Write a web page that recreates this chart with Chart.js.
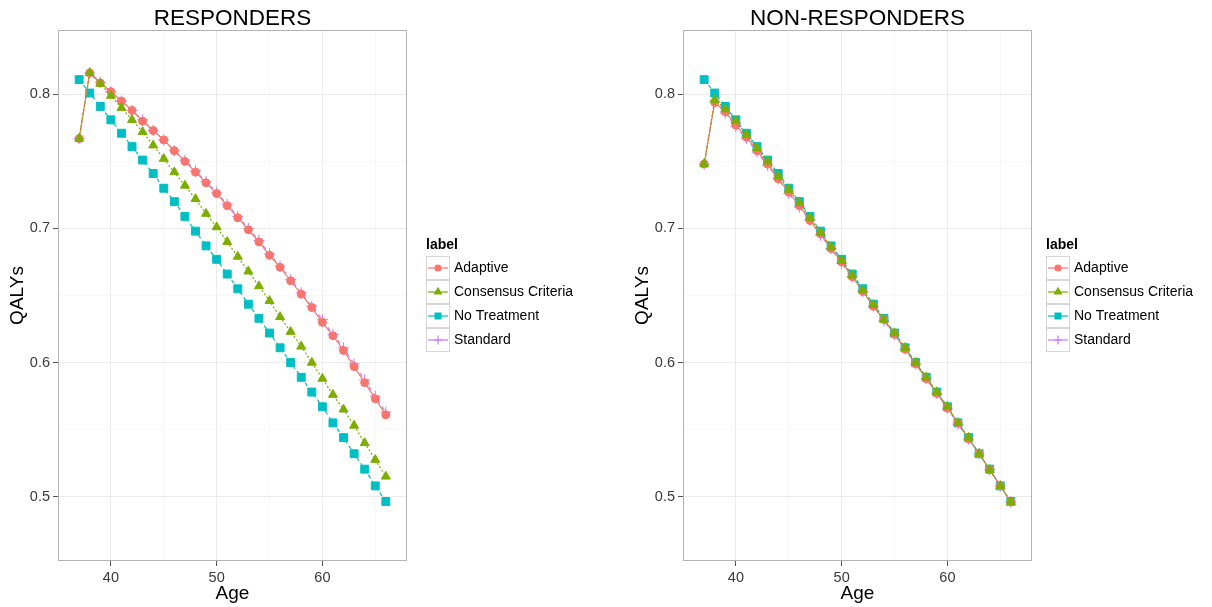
<!DOCTYPE html>
<html>
<head>
<meta charset="utf-8">
<title>QALYs by Age</title>
<script src="https://cdn.jsdelivr.net/npm/chart.js@4.4.1/dist/chart.umd.min.js"></script>
<style>
  html, body { margin: 0; padding: 0; background: #fff; }
  #wrap { position: relative; width: 1212px; height: 607px; overflow: hidden; }
  .panel { position: absolute; top: 0; }
  #left { left: 0; }
  #right { left: 625px; }
</style>
</head>
<body>
<div id="wrap">
  <div class="panel" id="left"><canvas id="respChart" width="600" height="607"></canvas></div>
  <div class="panel" id="right"><canvas id="nonRespChart" width="587" height="607"></canvas></div>
</div>
<script>
// ---- data ----
const ages = [37, 38, 39, 40, 41, 42, 43, 44, 45, 46, 47, 48, 49, 50, 51,
              52, 53, 54, 55, 56, 57, 58, 59, 60, 61, 62, 63, 64, 65, 66];

const seriesLabels = ['Adaptive', 'Consensus Criteria', 'No Treatment', 'Standard'];

// RESPONDERS
const respAdaptive = [0.767, 0.816, 0.8085, 0.802, 0.795, 0.788, 0.780, 0.773, 0.766, 0.758,
                      0.750, 0.742, 0.734, 0.726, 0.717, 0.708, 0.699, 0.690, 0.680, 0.671,
                      0.661, 0.651, 0.641, 0.630, 0.620, 0.609, 0.597, 0.585, 0.573, 0.561];
const respConsensus = [0.767, 0.816, 0.808, 0.799, 0.790, 0.781, 0.772, 0.762, 0.752, 0.742,
                       0.732, 0.722, 0.711, 0.701, 0.690, 0.679, 0.668, 0.657, 0.646, 0.634,
                       0.623, 0.612, 0.600, 0.588, 0.576, 0.565, 0.553, 0.540, 0.5275, 0.515];
const respNoTreatment = [0.811, 0.801, 0.791, 0.781, 0.771, 0.761, 0.751, 0.741, 0.730, 0.720,
                         0.709, 0.698, 0.687, 0.677, 0.666, 0.655, 0.6435, 0.633, 0.622, 0.611,
                         0.600, 0.589, 0.578, 0.567, 0.555, 0.544, 0.532, 0.5205, 0.508, 0.4964];
const respStandard = [0.767, 0.816, 0.809, 0.802, 0.795, 0.788, 0.781, 0.773, 0.766, 0.758,
                      0.751, 0.743, 0.735, 0.727, 0.718, 0.709, 0.700, 0.691, 0.681, 0.672,
                      0.662, 0.652, 0.642, 0.632, 0.621, 0.611, 0.599, 0.587, 0.575, 0.563];

// NON-RESPONDERS
const nonRespAdaptive = [0.748, 0.794, 0.787, 0.777, 0.768, 0.758, 0.748, 0.737, 0.727, 0.717,
                         0.706, 0.696, 0.685, 0.675, 0.664, 0.653, 0.642, 0.632, 0.621, 0.610,
                         0.599, 0.588, 0.577, 0.566, 0.555, 0.543, 0.532, 0.520, 0.508, 0.496];
const nonRespConsensus = [0.748, 0.796, 0.789, 0.780, 0.770, 0.760, 0.750, 0.739, 0.729, 0.719,
                          0.708, 0.697, 0.686, 0.676, 0.665, 0.654, 0.643, 0.632, 0.622, 0.611,
                          0.600, 0.589, 0.578, 0.567, 0.555, 0.544, 0.532, 0.520, 0.508, 0.496];
const nonRespNoTreatment = [0.811, 0.801, 0.791, 0.781, 0.771, 0.761, 0.751, 0.741, 0.730, 0.720,
                            0.709, 0.698, 0.687, 0.677, 0.666, 0.655, 0.6435, 0.633, 0.622, 0.611,
                            0.600, 0.589, 0.578, 0.567, 0.555, 0.544, 0.532, 0.5205, 0.508, 0.4964];
const nonRespStandard = [0.748, 0.795, 0.786, 0.776, 0.767, 0.757, 0.747, 0.737, 0.726, 0.716,
                         0.706, 0.695, 0.685, 0.674, 0.664, 0.653, 0.642, 0.631, 0.621, 0.610,
                         0.599, 0.588, 0.577, 0.566, 0.554, 0.543, 0.532, 0.520, 0.508, 0.496];

// axis ticks
const xMajorTicks = [40, 50, 60];
const xGridTicks = [35, 40, 45, 50, 55, 60, 65];
const yMajorTicks = [0.5, 0.6, 0.7, 0.8];
const yGridTicks = [0.5, 0.55, 0.6, 0.65, 0.7, 0.75, 0.8];

// ---- styles ----
const FONT = '"Liberation Sans", Arial, Helvetica, sans-serif';
const seriesColors = ['#F8766D', '#7CAE00', '#00BFC4', '#C77CFF'];
const pointStyles = ['circle', 'triangle', 'rect', 'cross'];
const pointSizes = [4, 5.2, 5.6, 5.5];
const legendPointSizes = [3, 4, 4.2, 4.5];
const lineDashes = [[], [2, 2], [4, 3], [4, 4]];
const drawOrder = [1, 0, 2, 3];   // lower = drawn on top

Chart.defaults.font.family = FONT;

const isMajor = (list, v) => list.some(m => Math.abs(m - v) < 1e-9);

/**
 * Panel border like ggplot theme_bw
 */
const panelBorder = {
  id: 'panelBorder',
  afterDatasetsDraw(chart) {
    const { ctx, chartArea: a } = chart;
    ctx.save();
    ctx.strokeStyle = '#b3b3b3';
    ctx.lineWidth = 1;
    ctx.strokeRect(a.left + 0.5, a.top + 0.5, a.width - 1, a.height - 1);
    ctx.restore();
  }
};

/**
 * ggplot style legend drawn to the right of the panel
 */
const ggLegend = {
  id: 'ggLegend',
  afterDraw(chart, args, opts) {
    const ctx = chart.ctx;
    const x0 = opts.x;
    ctx.save();
    ctx.textBaseline = 'middle';
    ctx.textAlign = 'left';
    ctx.fillStyle = '#000';
    ctx.font = 'bold 14px ' + FONT;
    ctx.fillText('label', x0, 245);

    seriesLabels.forEach((name, i) => {
      const top = 256 + i * 24;
      const cy = top + 12;
      ctx.fillStyle = '#fff';
      ctx.fillRect(x0, top, 24, 24);
      ctx.strokeStyle = '#d6d6d6';
      ctx.lineWidth = 1;
      ctx.strokeRect(x0 + 0.5, top + 0.5, 23, 23);

      ctx.strokeStyle = seriesColors[i];
      ctx.lineWidth = 1.2;
      ctx.beginPath();
      ctx.moveTo(x0 + 2, cy);
      ctx.lineTo(x0 + 22, cy);
      ctx.stroke();

      ctx.fillStyle = seriesColors[i];
      Chart.helpers.drawPoint(ctx, {
        pointStyle: pointStyles[i], radius: legendPointSizes[i], borderWidth: 1, rotation: 0
      }, x0 + 12, cy);

      ctx.fillStyle = '#000';
      ctx.font = '14px ' + FONT;
      ctx.fillText(name, x0 + 28, cy);
    });
    ctx.restore();
  }
};

/**
 * Build one panel
 */
function buildPanel(canvasId, title, series, legendX) {
  const canvas = document.getElementById(canvasId);
  const ctx = canvas.getContext('2d');

  const datasets = seriesLabels.map((name, i) => ({
    label: name,
    data: ages.map((a, j) => ({ x: a, y: series[i][j] })),
    borderColor: seriesColors[i],
    backgroundColor: seriesColors[i],
    pointBackgroundColor: seriesColors[i],
    pointBorderColor: seriesColors[i],
    borderWidth: 1.2,
    borderDash: lineDashes[i],
    pointStyle: pointStyles[i],
    pointRadius: pointSizes[i],
    pointBorderWidth: 1,
    tension: 0,
    fill: false,
    order: drawOrder[i]
  }));

  return new Chart(ctx, {
    type: 'line',
    data: { datasets },
    options: {
      responsive: false,
      animation: false,
      devicePixelRatio: 1,
      layout: { padding: { left: 0, right: canvas.width - 407, top: 0, bottom: 0 } },
      plugins: {
        legend: { display: false },
        tooltip: { enabled: false },
        title: {
          display: true,
          text: title,
          fullSize: false,
          color: '#000',
          font: { size: 22.5, weight: 'normal', lineHeight: 1 },
          padding: { top: 7.5, bottom: 0 }
        },
        ggLegend: { x: legendX }
      },
      scales: {
        x: {
          type: 'linear',
          min: 35,
          max: 68,
          afterBuildTicks: s => { s.ticks = xGridTicks.map(v => ({ value: v })); },
          afterFit: s => { s.height = 46; },
          border: { display: false },
          grid: {
            color: c => isMajor(xMajorTicks, c.tick.value) ? '#ebebeb' : '#f7f7f7',
            lineWidth: 1,
            tickLength: 5,
            tickColor: c => isMajor(xMajorTicks, c.tick.value) ? '#555' : 'rgba(0,0,0,0)'
          },
          ticks: {
            autoSkip: false,
            maxRotation: 0,
            padding: 3,
            color: '#3a3a3a',
            font: { size: 14.5 },
            callback: v => isMajor(xMajorTicks, v) ? String(v) : ''
          },
          title: {
            display: true,
            text: 'Age',
            color: '#000',
            font: { size: 19 },
            padding: { top: 0, bottom: 2 }
          }
        },
        y: {
          type: 'linear',
          min: 0.452,
          max: 0.848,
          afterBuildTicks: s => { s.ticks = yGridTicks.map(v => ({ value: v })); },
          afterFit: s => { s.width = 58; },
          border: { display: false },
          grid: {
            color: c => isMajor(yMajorTicks, c.tick.value) ? '#ebebeb' : '#f7f7f7',
            lineWidth: 1,
            tickLength: 5,
            tickColor: c => isMajor(yMajorTicks, c.tick.value) ? '#555' : 'rgba(0,0,0,0)'
          },
          ticks: {
            autoSkip: false,
            padding: 3,
            color: '#3a3a3a',
            font: { size: 14.5 },
            callback: v => isMajor(yMajorTicks, v) ? v.toFixed(1) : ''
          },
          title: {
            display: true,
            text: 'QALYs',
            color: '#000',
            font: { size: 19 },
            padding: { top: 6, bottom: 0 }
          }
        }
      }
    },
    plugins: [panelBorder, ggLegend]
  });
}

buildPanel('respChart', 'RESPONDERS',
  [respAdaptive, respConsensus, respNoTreatment, respStandard], 426);
buildPanel('nonRespChart', 'NON-RESPONDERS',
  [nonRespAdaptive, nonRespConsensus, nonRespNoTreatment, nonRespStandard], 421);
</script>
</body>
</html>
